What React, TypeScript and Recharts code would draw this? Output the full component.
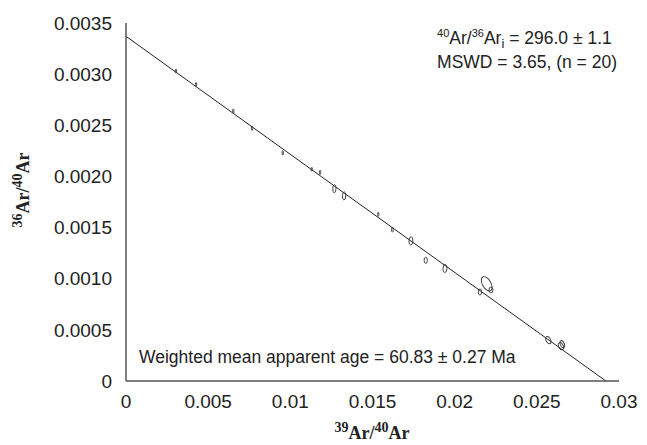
import {
  ScatterChart,
  Scatter,
  XAxis,
  YAxis,
  ReferenceLine
} from "recharts";

// 39Ar/40Ar vs 36Ar/40Ar, one entry per step
const x39 = [
  0.00304, 0.00426, 0.00653, 0.00767, 0.00954, 0.0113, 0.01181, 0.01268, 0.01327, 0.01535,
  0.01621, 0.01734, 0.01824, 0.01941, 0.02154, 0.02195, 0.02221, 0.0257, 0.02647, 0.02655
];
const y36 = [
  0.00303, 0.0029, 0.00264, 0.00247, 0.00223, 0.00207, 0.00204, 0.00188, 0.00181, 0.00163,
  0.00148, 0.00137, 0.00118, 0.0011, 0.00087, 0.00095, 0.00089, 0.0004, 0.00034, 0.00036
];
// ellipse half-widths (data units) and correlation
const errX = [
  0.00004, 0.00004, 0.00004, 0.00004, 0.00004, 0.00004, 0.00004, 0.0001, 0.0001, 0.00004,
  0.00005, 0.00012, 0.0001, 0.00012, 0.0001, 0.00033, 0.00012, 0.00016, 0.00016, 0.00014
];
const errY = [
  0.00002, 0.00002, 0.00002, 0.00002, 0.000022, 0.00002, 0.00002, 0.00004, 0.00004, 0.00002,
  0.000025, 0.00004, 0.00003, 0.00004, 0.00003, 0.00007, 0.00003, 0.000035, 0.000035, 0.000035
];
const rho = [
  0, 0, 0, 0, 0, 0, 0, 0.1, 0.1, 0,
  0, 0.1, 0, 0.1, 0, -0.5, 0, -0.4, -0.4, -0.4
];

const xTicks = [0, 0.005, 0.01, 0.015, 0.02, 0.025, 0.03];
const yTicks = [0, 0.0005, 0.001, 0.0015, 0.002, 0.0025, 0.003, 0.0035];
const yTickLabels = ["0", "0.0005", "0.0010", "0.0015", "0.0020", "0.0025", "0.0030", "0.0035"];

// isochron intercepts
const yIntercept = 0.00337;
const xIntercept = 0.0292;

const W = 647;
const H = 445;
const M = { top: 23, right: 28, left: 0, bottom: 0 };
const Y_W = 126;
const X_H = 64;
const plotW = W - Y_W - M.right;
const plotH = H - M.top - X_H;
const pxX = plotW / 0.03;
const pxY = plotH / 0.0035;

const data = x39.map((x, i) => ({
  x,
  y: y36[i],
  ex: errX[i],
  ey: errY[i],
  r: rho[i]
}));

const font = "'Liberation Sans', Arial, sans-serif";

const EllipseShape = (props: any) => {
  const { cx, cy, payload } = props;
  const a = payload.ex * pxX;
  const b = payload.ey * pxY;
  const c = -payload.r * a * b;
  const mid = (a * a + b * b) / 2;
  const d = Math.sqrt(((a * a - b * b) / 2) ** 2 + c * c);
  const rx = Math.sqrt(mid + d);
  const ry = Math.sqrt(Math.max(mid - d, 0.01));
  const ang = (0.5 * Math.atan2(2 * c, a * a - b * b) * 180) / Math.PI;
  return (
    <ellipse
      cx={cx}
      cy={cy}
      rx={rx}
      ry={ry}
      transform={`rotate(${ang} ${cx} ${cy})`}
      fill="none"
      stroke="#333"
      strokeWidth={0.9}
    />
  );
};

export default function App() {
  return (
    <div style={{ position: "absolute", left: 0, top: 0, width: W, height: H, background: "#fff" }}>
      <ScatterChart width={W} height={H} margin={M}>
        <XAxis
          type="number"
          dataKey="x"
          domain={[0, 0.03]}
          ticks={xTicks}
          allowDataOverflow
          height={X_H}
          tickLine={false}
          tickMargin={8}
          axisLine={{ stroke: "#555", strokeWidth: 1.5 }}
          tick={{ fontSize: 19, fill: "#222", fontFamily: font }}
        />
        <XAxis
          xAxisId="top"
          orientation="top"
          type="number"
          dataKey="x"
          domain={[0, 0.03]}
          ticks={xTicks}
          height={0}
          mirror
          tickSize={3}
          tickFormatter={() => ""}
          axisLine={{ stroke: "#555", strokeWidth: 1.5 }}
          tickLine={{ stroke: "#777" }}
        />
        <YAxis
          type="number"
          dataKey="y"
          domain={[0, 0.0035]}
          ticks={yTicks}
          allowDataOverflow
          width={Y_W}
          tickLine={false}
          tickMargin={8}
          tickFormatter={(v: number) => yTickLabels[yTicks.indexOf(v)] ?? String(v)}
          axisLine={{ stroke: "#555", strokeWidth: 1.5 }}
          tick={{ fontSize: 19, fill: "#222", fontFamily: font }}
        />
        <YAxis
          yAxisId="right"
          orientation="right"
          type="number"
          dataKey="y"
          domain={[0, 0.0035]}
          ticks={yTicks}
          width={0}
          mirror
          tickSize={3}
          tickFormatter={() => ""}
          axisLine={{ stroke: "#555", strokeWidth: 1.5 }}
          tickLine={{ stroke: "#777" }}
        />
        <ReferenceLine
          segment={[
            { x: 0, y: yIntercept },
            { x: xIntercept, y: 0 }
          ]}
          stroke="#222"
          strokeWidth={1}
          ifOverflow="visible"
        />
        <Scatter data={data} shape={EllipseShape} isAnimationActive={false} />
      </ScatterChart>

      <div
        style={{
          position: "absolute",
          right: 30,
          top: 24,
          fontFamily: font,
          fontSize: 17.5,
          color: "#222",
          textAlign: "left",
          lineHeight: "19px"
        }}
      >
        <div>
          <sup style={{ fontSize: 11 }}>40</sup>Ar/<sup style={{ fontSize: 11 }}>36</sup>Ar
          <sub style={{ fontSize: 13 }}>i</sub> = 296.0 ± 1.1
        </div>
        <div>MSWD = 3.65, (n = 20)</div>
      </div>

      <div
        style={{
          position: "absolute",
          left: 139,
          top: 347,
          fontFamily: font,
          fontSize: 17.5,
          color: "#222",
          whiteSpace: "nowrap"
        }}
      >
        Weighted mean apparent age = 60.83 ± 0.27 Ma
      </div>

      <div
        style={{
          position: "absolute",
          left: 372,
          top: 432,
          transform: "translate(-50%, -50%)",
          fontFamily: "'Liberation Serif', 'Times New Roman', serif",
          fontWeight: "bold",
          fontSize: 18,
          color: "#222",
          whiteSpace: "nowrap"
        }}
      >
        <sup style={{ fontSize: 14 }}>39</sup>Ar/<sup style={{ fontSize: 14 }}>40</sup>Ar
      </div>

      <div
        style={{
          position: "absolute",
          left: 22,
          top: 190,
          transform: "translate(-50%, -50%) rotate(-90deg)",
          fontFamily: "'Liberation Serif', 'Times New Roman', serif",
          fontWeight: "bold",
          fontSize: 18,
          color: "#222",
          whiteSpace: "nowrap"
        }}
      >
        <sup style={{ fontSize: 14 }}>36</sup>Ar/<sup style={{ fontSize: 14 }}>40</sup>Ar
      </div>
    </div>
  );
}
